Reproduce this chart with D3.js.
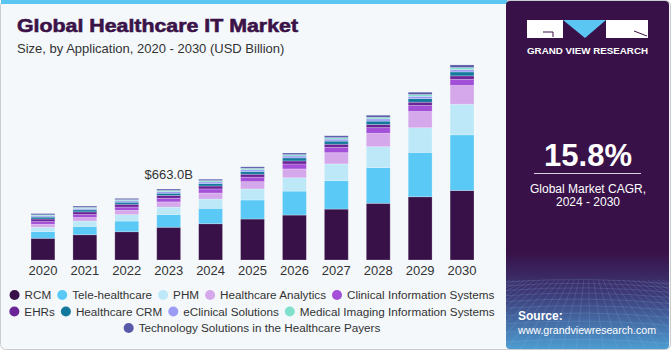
<!DOCTYPE html>
<html>
<head>
<meta charset="utf-8">
<script src="https://cdn.jsdelivr.net/npm/d3@7"></script>
<style>
  body { margin: 0; background: #ffffff; }
  svg { display: block; font-family: "Liberation Sans", Arial, sans-serif; }
</style>
</head>
<body>
<div id="chart"></div>
<script>
// Data (USD Billion)
const years = ["2020", "2021", "2022", "2023", "2024", "2025", "2026", "2027", "2028", "2029", "2030"];
const seriesNames = ["RCM", "Tele-healthcare", "PHM", "Healthcare Analytics", "Clinical Information Systems",
    "EHRs", "Healthcare CRM", "eClinical Solutions", "Medical Imaging Information Systems",
    "Technology Solutions in the Healthcare Payers"];
const rcm        = [203, 236, 264, 306, 339, 383, 420, 476, 530, 591, 650];
const tele       = [63, 78, 100, 119, 144, 178, 224, 266, 333, 415, 520];
const phm        = [40, 50, 60, 70, 87, 103, 125, 156, 196, 230, 286];
const analytics  = [28, 33, 40, 48, 56, 68, 82, 105, 125, 152, 175];
const cis        = [25, 28, 31, 34, 38, 42, 46, 50, 53, 56, 58];
const ehrs       = [24, 25, 26, 27, 28, 28, 29, 29, 30, 31, 32];
const crm        = [18, 19, 19, 20, 22, 25, 28, 29, 31, 33, 37];
const eclinical  = [12, 13, 14, 15, 16, 17, 18, 19, 21, 22, 23];
const imaging    = [9, 10, 10, 11, 12, 13, 13, 14, 15, 17, 18];
const payers     = [12, 12, 12, 13, 13, 14, 15, 17, 19, 21, 24];
const seriesColors = ["#381148", "#5bc9f6", "#bde8f8", "#d4a8ea", "#a34fd8",
    "#6b2398", "#12799c", "#9c9cf4", "#80e0cc", "#5858a8"];
const highlightYear = "2023";

const allSeries = [rcm, tele, phm, analytics, cis, ehrs, crm, eclinical, imaging, payers];
const table = years.map((y, i) => {
    const row = {year: y};
    seriesNames.forEach((s, j) => row[s] = allSeries[j][i]);
    return row;
});

const W = 671, H = 350;
const svg = d3.select("#chart").append("svg")
    .attr("width", W).attr("height", H);

// Background card
svg.append("rect")
    .attr("x", 0.5).attr("y", 0.5).attr("width", W - 1).attr("height", H - 1)
    .attr("rx", 5).attr("fill", "#f4f8fb").attr("stroke", "#c9cdd2");
svg.append("rect")
    .attr("x", 1).attr("y", 0).attr("width", 506).attr("height", 4)
    .attr("fill", "#5bc6f2");

// Title
svg.append("text").attr("x", 17).attr("y", 32)
    .attr("font-size", 19).attr("font-weight", 900).attr("fill", "#3a1248")
    .attr("stroke", "#3a1248").attr("stroke-width", 0.6)
    .attr("textLength", 281).attr("lengthAdjust", "spacingAndGlyphs")
    .text("Global Healthcare IT Market");
svg.append("text").attr("x", 17).attr("y", 53)
    .attr("font-size", 13).attr("fill", "#333")
    .text("Size, by Application, 2020 - 2030 (USD Billion)");

// Scales
const x = d3.scaleBand().domain(years).range([22, 483]).paddingInner(0.43).paddingOuter(0.215);
const y = d3.scaleLinear().domain([0, 2000]).range([260, 46]);

const stack = d3.stack().keys(seriesNames);
const layers = stack(table);

svg.append("g").selectAll("g")
    .data(layers)
    .join("g")
    .attr("fill", (d, i) => seriesColors[i])
    .selectAll("rect")
    .data(d => d)
    .join("rect")
    .attr("x", d => x(d.data.year))
    .attr("width", x.bandwidth())
    .attr("y", d => y(d[1]))
    .attr("height", d => y(d[0]) - y(d[1]))
    .attr("stroke", "rgba(255,255,255,0.3)")
    .attr("stroke-width", 0.8);

// X axis labels
const xAxis = svg.append("g")
    .attr("transform", "translate(0,260)")
    .call(d3.axisBottom(x).tickSize(0).tickPadding(6));
xAxis.select(".domain").remove();
xAxis.selectAll("text")
    .attr("font-size", 13).attr("fill", "#333")
    .attr("font-family", "Liberation Sans, Arial, sans-serif");

// Highlight label
const hlTotal = d3.sum(seriesNames, s => table[years.indexOf(highlightYear)][s]);
svg.append("text")
    .attr("x", x(highlightYear) + x.bandwidth() / 2)
    .attr("y", y(hlTotal) - 10)
    .attr("text-anchor", "middle")
    .attr("font-size", 13).attr("fill", "#333")
    .text("$" + hlTotal.toFixed(1) + "B");

// Legend: three centered rows
const legendRows = [[0, 1, 2, 3, 4], [5, 6, 7, 8], [9]];
const legend = svg.append("g");
const legendCenter = 252, rowH = 16.5, legendTop = 295, gap = 6;
const items = seriesNames.map((s, i) => {
    const g = legend.append("g");
    g.append("circle").attr("cx", 5).attr("cy", 0).attr("r", 5).attr("fill", seriesColors[i]);
    const t = g.append("text").attr("x", 15).attr("y", 4.2)
        .attr("font-size", 11.7).attr("fill", "#333").text(s);
    return {g: g, w: 15 + t.node().getComputedTextLength()};
});
legendRows.forEach((r, ri) => {
    const rowW = d3.sum(r, k => items[k].w) + gap * (r.length - 1);
    let xx = legendCenter - rowW / 2;
    r.forEach(k => {
        items[k].g.attr("transform", `translate(${xx},${legendTop + ri * rowH})`);
        xx += items[k].w + gap;
    });
});

// Right side panel
const defs = svg.append("defs");
const grad = defs.append("linearGradient").attr("id", "panelGrad")
    .attr("x1", 0).attr("y1", 0).attr("x2", 0).attr("y2", 1);
grad.append("stop").attr("offset", "0%").attr("stop-color", "#381148");
grad.append("stop").attr("offset", "72%").attr("stop-color", "#381148");
grad.append("stop").attr("offset", "84%").attr("stop-color", "#3d3a78");
grad.append("stop").attr("offset", "100%").attr("stop-color", "#4d9ed3");
const clip = defs.append("clipPath").attr("id", "panelClip");
clip.append("rect").attr("x", 506).attr("y", 1).attr("width", 163).attr("height", 348).attr("rx", 4);

const panel = svg.append("g").attr("clip-path", "url(#panelClip)");
panel.append("rect").attr("x", 506).attr("y", 0).attr("width", 165).attr("height", H)
    .attr("fill", "url(#panelGrad)");

// faint grid at the bottom of the panel
const grid = panel.append("g").attr("stroke", "#9fd4f5").attr("stroke-opacity", 0.25).attr("stroke-width", 0.6).attr("fill", "none");
d3.range(0, 14).forEach(i => {
    const yy = 282 + i * i * 0.35 + i * 3.5;
    grid.append("path").attr("d", `M506,${yy} Q588,${yy - 6} 671,${yy + 2}`);
});
d3.range(-10, 22).forEach(i => {
    const xb = 506 + i * 14;
    grid.append("path").attr("d", `M${588 + (xb - 588) * 0.35},280 L${xb},350`);
});

// Logo
const logo = svg.append("g");
logo.append("rect").attr("x", 527).attr("y", 20).attr("width", 36).attr("height", 18).attr("fill", "#fff");
logo.append("path").attr("d", "M543,32 L553,32 L553,37").attr("stroke", "#381148").attr("stroke-width", 1).attr("fill", "none");
logo.append("path").attr("d", "M563,20 L606,20 L585,38 Z").attr("fill", "#5bc6f2");
logo.append("rect").attr("x", 606).attr("y", 20).attr("width", 42).attr("height", 18).attr("fill", "#fff");
logo.append("path").attr("d", "M634,31 L647,36").attr("stroke", "#381148").attr("stroke-width", 1);
logo.append("text").attr("x", 587.5).attr("y", 54).attr("text-anchor", "middle")
    .attr("font-size", 8.5).attr("font-weight", "bold").attr("fill", "#fff")
    .attr("textLength", 121).attr("lengthAdjust", "spacingAndGlyphs")
    .text("GRAND VIEW RESEARCH");

// CAGR block
svg.append("text").attr("x", 588).attr("y", 166).attr("text-anchor", "middle")
    .attr("font-size", 31).attr("font-weight", "bold").attr("fill", "#fff").text("15.8%");
svg.append("line").attr("x1", 534).attr("x2", 641).attr("y1", 173.5).attr("y2", 173.5)
    .attr("stroke", "#d8d0de").attr("stroke-width", 1);
svg.append("text").attr("x", 588).attr("y", 193).attr("text-anchor", "middle")
    .attr("font-size", 12).attr("fill", "#fff").text("Global Market CAGR,");
svg.append("text").attr("x", 588).attr("y", 206).attr("text-anchor", "middle")
    .attr("font-size", 12).attr("fill", "#fff").text("2024 - 2030");

// Source
svg.append("text").attr("x", 518).attr("y", 320)
    .attr("font-size", 12).attr("font-weight", "bold").attr("fill", "#fff").text("Source:");
svg.append("text").attr("x", 518).attr("y", 334)
    .attr("font-size", 11.5).attr("fill", "#fff")
    .attr("textLength", 138).attr("lengthAdjust", "spacingAndGlyphs")
    .text("www.grandviewresearch.com");
</script>
</body>
</html>
